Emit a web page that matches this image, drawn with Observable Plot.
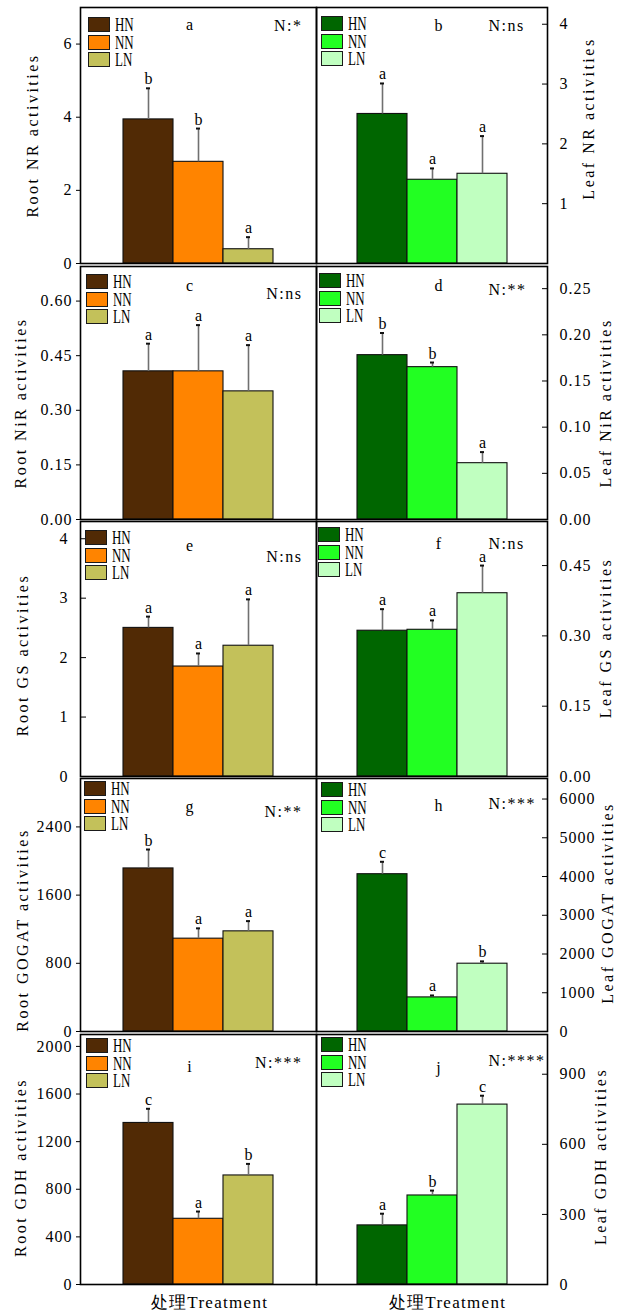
<!DOCTYPE html>
<html>
<head>
<meta charset="utf-8">
<script src="https://cdn.jsdelivr.net/npm/d3@7"></script>
<script src="https://cdn.jsdelivr.net/npm/@observablehq/plot@0.6"></script>
<style>
  html, body { margin: 0; padding: 0; background: #fff; }
  #wrap { position: relative; width: 619px; height: 1311px; overflow: hidden; background: #fff; font-family: "Liberation Serif", serif; }
  .panel { position: absolute; }
  .panel svg { overflow: visible; }
  .sw { position: absolute; box-sizing: border-box; width: 22px; height: 15px; border: 1.6px solid #1a1a1a; }
  .lg { position: absolute; font-family: "Liberation Serif", serif; font-size: 18px; line-height: 18px; transform: scaleX(0.72); transform-origin: left center; color: #000; white-space: nowrap; }
</style>
</head>
<body>
<div id="wrap"></div>
<script>
// ---------------- data ----------------
const treatments = ["HN", "NN", "LN"];
const rootColors = ["#512a05", "#ff8400", "#c3c15a"];
const leafColors = ["#006600", "#22ff22", "#c0ffc0"];

// Root NR (a)
const rootNR = [3.94, 2.78, 0.39];
const rootNRse = [0.85, 0.91, 0.33];
const rootNRsig = ["b", "b", "a"];
const rootNRticks = [0, 2, 4, 6];
// Leaf NR (b)
const leafNR = [2.5, 1.4, 1.5];
const leafNRse = [0.51, 0.19, 0.63];
const leafNRsig = ["a", "a", "a"];
const leafNRticks = [1, 2, 3, 4];
// Root NiR (c)
const rootNiR = [0.407, 0.407, 0.352];
const rootNiRse = [0.076, 0.127, 0.127];
const rootNiRsig = ["a", "a", "a"];
const rootNiRticks = [0, 0.15, 0.30, 0.45, 0.60];
// Leaf NiR (d)
const leafNiR = [0.178, 0.165, 0.061];
const leafNiRse = [0.024, 0.005, 0.012];
const leafNiRsig = ["b", "b", "a"];
const leafNiRticks = [0, 0.05, 0.10, 0.15, 0.20, 0.25];
// Root GS (e)
const rootGS = [2.5, 1.85, 2.2];
const rootGSse = [0.19, 0.22, 0.78];
const rootGSsig = ["a", "a", "a"];
const rootGSticks = [0, 1, 2, 3, 4];
// Leaf GS (f)
const leafGS = [0.311, 0.313, 0.391];
const leafGSse = [0.046, 0.020, 0.059];
const leafGSsig = ["a", "a", "a"];
const leafGSticks = [0, 0.15, 0.30, 0.45];
// Root GOGAT (g)
const rootGOGAT = [1913, 1089, 1175];
const rootGOGATse = [222, 121, 120];
const rootGOGATsig = ["b", "a", "a"];
const rootGOGATticks = [0, 800, 1600, 2400];
// Leaf GOGAT (h)
const leafGOGAT = [4060, 880, 1750];
const leafGOGATse = [320, 50, 60];
const leafGOGATsig = ["c", "a", "b"];
const leafGOGATticks = [0, 1000, 2000, 3000, 4000, 5000, 6000];
// Root GDH (i)
const rootGDH = [1357, 552, 916];
const rootGDHse = [119, 61, 97];
const rootGDHsig = ["c", "a", "b"];
const rootGDHticks = [0, 400, 800, 1200, 1600, 2000];
// Leaf GDH (j)
const leafGDH = [253, 381, 770];
const leafGDHse = [50, 21, 38];
const leafGDHsig = ["a", "b", "c"];
const leafGDHticks = [0, 300, 600, 900];

const panelLetters = ["a", "b", "c", "d", "e", "f", "g", "h", "i", "j"];
const titles = ["Root NR activities", "Leaf NR activities", "Root NiR activities", "Leaf NiR activities",
  "Root GS activities", "Leaf GS activities", "Root GOGAT activities", "Leaf GOGAT activities",
  "Root GDH activities", "Leaf GDH activities"];
const anova = ["N:*", "N:ns", "N:ns", "N:**", "N:ns", "N:ns", "N:**", "N:***", "N:***", "N:****"];
const yMax = [7.0, 4.28, 0.695, 0.274, 4.29, 0.544, 2968, 6530, 2100, 1070];
const xLabel = "处理Treatment";

const values = [rootNR, leafNR, rootNiR, leafNiR, rootGS, leafGS, rootGOGAT, leafGOGAT, rootGDH, leafGDH];
const errors = [rootNRse, leafNRse, rootNiRse, leafNiRse, rootGSse, leafGSse, rootGOGATse, leafGOGATse, rootGDHse, leafGDHse];
const sigs = [rootNRsig, leafNRsig, rootNiRsig, leafNiRsig, rootGSsig, leafGSsig, rootGOGATsig, leafGOGATsig, rootGDHsig, leafGDHsig];
const ticks = [rootNRticks, leafNRticks, rootNiRticks, leafNiRticks, rootGSticks, leafGSticks, rootGOGATticks, leafGOGATticks, rootGDHticks, leafGDHticks];
const formats = ["d", "d", ".2f", ".2f", "d", ".2f", "d", "d", "d", "d"];

// ---------------- layout / style ----------------
const rowTop = [7, 266, 521, 778, 1034];
const rowBottom = [263, 519, 776, 1031, 1284];
const leftX0 = 80, midX = 316, rightX1 = 547;
const style = [
  {titleDx: -48, titleDy: 0, letterDy: 17, nDy: 18, lg: [8, 10], tick: 4},
  {titleDx: 41, titleDy: -17, letterDy: 18, nDy: 18, lg: [5, 9], tick: -6},
  {titleDx: -60, titleDy: 10, letterDy: 19, nDy: 27, lg: [6, 8], tick: 4},
  {titleDx: 58, titleDy: 10, letterDy: 19, nDy: 23, lg: [3, 7], tick: -6},
  {titleDx: -58, titleDy: 6, letterDy: 24, nDy: 35, lg: [5, 9], tick: -6},
  {titleDx: 58, titleDy: -11, letterDy: 22, nDy: 22, lg: [2, 6], tick: -6},
  {titleDx: -58, titleDy: 25, letterDy: 28, nDy: 33, lg: [4, 3], tick: 4},
  {titleDx: 60, titleDy: -2, letterDy: 27, nDy: 25, lg: [5, 4], tick: -6},
  {titleDx: -60, titleDy: 8, letterDy: 32, nDy: 28, lg: [6, 4], tick: 4},
  {titleDx: 53, titleDy: -3, letterDy: 33, nDy: 26, lg: [5, 3], tick: -6}
];

const wrap = document.getElementById("wrap");

for (let k = 0; k < 10; k++) {
  const row = Math.floor(k / 2);
  const left = k % 2 === 0;
  const st = style[k];
  const top = rowTop[row], bottom = rowBottom[row];
  const x0 = left ? leftX0 : midX, x1 = left ? midX : rightX1;
  const mT = 2, mB = 2;
  const mL = left ? leftX0 : 0, mR = left ? 0 : 619 - rightX1;
  const width = (x1 - x0) + mL + mR;
  const height = (bottom - top) + mT + mB;
  const data = treatments.map((t, i) => ({t, v: values[k][i], hi: values[k][i] + errors[k][i], s: sigs[k][i]}));
  const tickSize = st.tick;
  const tickPadding = tickSize > 0 ? 4 : 18;

  const marks = [
    Plot.barY(data, {x: "t", y: "v", fill: "t", stroke: "#111", strokeWidth: 1.1}),
    Plot.ruleX(data, {x: "t", y1: "v", y2: "hi", stroke: "#707070", strokeWidth: 1.6}),
    Plot.tickY(data, {x: "t", y: "hi", stroke: "#111", strokeWidth: 2, insetLeft: 23, insetRight: 23}),
    Plot.text(data, {x: "t", y: "hi", text: "s", lineAnchor: "bottom", dy: -4, fontSize: 16}),
    Plot.axisY(ticks[k], {anchor: left ? "left" : "right", tickSize, tickPadding, tickFormat: d3.format(formats[k]), fontSize: 16, label: null, stroke: "#000"}),
    Plot.frame({stroke: "#000", strokeWidth: 1.6}),
    Plot.text([panelLetters[k]], {text: d => d, frameAnchor: "top-left", dx: left ? 109 : 122, dy: st.letterDy, textAnchor: "middle", lineAnchor: "middle", fontSize: 16}),
    Plot.text([anova[k]], {text: d => d, frameAnchor: "top-right", dx: left ? -14 : -59, dy: st.nDy, textAnchor: left ? "end" : "start", lineAnchor: "middle", fontSize: 16}),
    Plot.text([titles[k]], {text: d => d, frameAnchor: left ? "left" : "right", dx: st.titleDx, dy: st.titleDy, rotate: -90, textAnchor: "middle", lineAnchor: "middle", fontSize: 16})
  ];
  if (row === 4) {
    marks.push(Plot.text([xLabel], {text: d => d, frameAnchor: "bottom", dx: left ? 11 : 15.5, dy: 18, textAnchor: "middle", lineAnchor: "middle", fontSize: 17}));
  }

  const svg = Plot.plot({
    width, height,
    marginLeft: mL, marginRight: mR, marginTop: mT, marginBottom: mB,
    style: {fontFamily: "'Liberation Serif', serif", fontSize: "16px", overflow: "visible", background: "transparent", color: "#000"},
    x: {domain: treatments, paddingInner: 0, paddingOuter: left ? 0.83 : 0.77, axis: null},
    y: {domain: [0, yMax[k]], axis: null},
    color: {domain: treatments, range: left ? rootColors : leafColors},
    marks
  });

  // letter spacing to imitate the wide SimSun-like lettering
  svg.querySelectorAll("text").forEach(t => {
    const s = t.textContent;
    if (titles.includes(s)) t.style.letterSpacing = "2.5px";
    else if (s === xLabel) t.style.letterSpacing = "1.3px";
    else if (anova.includes(s)) t.style.letterSpacing = "1.5px";
    else if (/^[0-9.]+$/.test(s)) t.style.letterSpacing = "1px";
  });

  const div = document.createElement("div");
  div.className = "panel";
  div.style.left = (x0 - mL) + "px";
  div.style.top = (top - mT) + "px";
  div.appendChild(svg);
  wrap.appendChild(div);

  // in-panel legend
  const colors = left ? rootColors : leafColors;
  treatments.forEach((t, i) => {
    const sx = x0 + st.lg[0], sy = top + st.lg[1] + i * 17.5;
    const sw = document.createElement("div");
    sw.className = "sw";
    sw.style.left = sx + "px";
    sw.style.top = sy + "px";
    sw.style.background = colors[i];
    wrap.appendChild(sw);
    const lb = document.createElement("div");
    lb.className = "lg";
    lb.textContent = t;
    lb.style.left = (sx + 27) + "px";
    lb.style.top = (sy - 1) + "px";
    wrap.appendChild(lb);
  });
}
</script>
</body>
</html>
